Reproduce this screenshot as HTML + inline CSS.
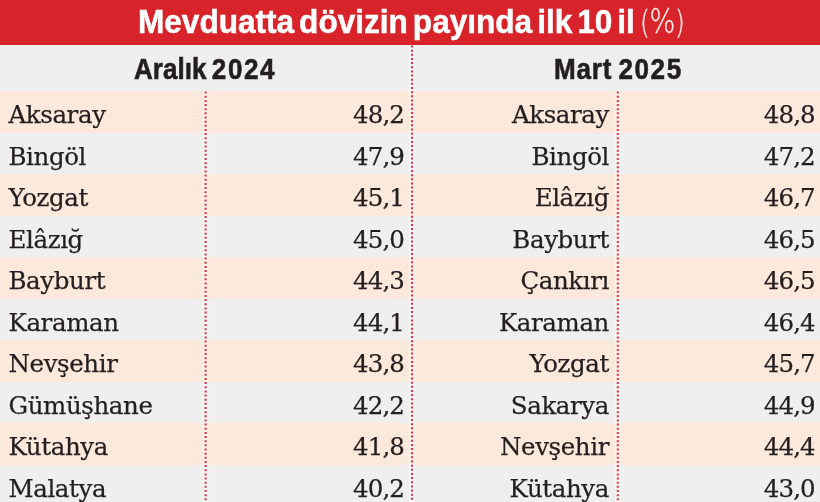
<!DOCTYPE html>
<html lang="tr"><head><meta charset="utf-8"><title>Mevduatta dövizin payında ilk 10 il</title>
<style>
html,body{margin:0;padding:0}
body{width:820px;height:502px;overflow:hidden;position:relative;background:#efefef;color:#231f20}
.hd{position:absolute;left:0;top:0;width:820px;height:44.7px;background:#d9232a}
.title{position:absolute;left:0;top:0;width:820px;height:44px;color:#fff;white-space:nowrap;font-family:"Liberation Sans",sans-serif;font-weight:bold;font-size:33px;line-height:44px}
.title .t{position:absolute;left:138px;top:-0.5px;transform:scaleX(0.957);transform-origin:0 0;word-spacing:-4px;-webkit-text-stroke:0.5px #fff}
.title .pc{position:absolute;left:640px;top:-1.5px;font-family:"DejaVu Sans","Liberation Sans",sans-serif;font-weight:200;font-size:31.5px;-webkit-text-stroke:0.3px #fdeeee;line-height:44px;transform:scaleX(0.8);transform-origin:0 0;color:#fdeeee}
.title .pct{font-size:34px;position:relative;top:0.8px;margin:0 -0.5px}
.sub{position:absolute;top:44.7px;left:0;width:820px;height:46.3px;background:#efefef}
.sh{position:absolute;top:44.8px;height:47px;line-height:47px;white-space:nowrap;font-family:"Liberation Sans",sans-serif;font-weight:bold;font-size:29.6px;color:#231f20;transform:scaleX(0.88);transform-origin:0 0;word-spacing:-2px;-webkit-text-stroke:0.6px #231f20}
.sh .d{letter-spacing:1.8px}
.sh .w{letter-spacing:0.9px}
.row{position:absolute;left:0;width:820px;height:41.5px;font-family:"DejaVu Serif","Liberation Serif",serif;font-size:24.5px;line-height:41.5px;white-space:nowrap;letter-spacing:-0.4px;-webkit-text-stroke:0.25px #231f20}
.row.p{background:#fde9dc}
.row.g{background:#efefef}
.row span{position:absolute;top:3.1px}
.n.l{left:8.5px}
.v{font-size:24.5px;letter-spacing:-0.9px;margin-top:0px}
.v.lv{right:416px}
.n.r{right:211px}
.v.rv{right:5.2px}
.lines{position:absolute;left:0;top:0}
</style></head><body>
<div class="hd"></div>
<div class="title"><span class="t">Mevduatta dövizin payında ilk 10 il </span><span class="pc">(<span class="pct">%</span>)</span></div>
<div class="sub"></div>
<div class="sh" style="left:133.6px">Aralık <span class="d">2024</span></div>
<div class="sh" style="left:554.3px"><span class="w">Mart </span><span class="d">2025</span></div>
<div class="row p" style="top:91.0px"><span class="n l">Aksaray</span><span class="v lv">48,2</span><span class="n r">Aksaray</span><span class="v rv">48,8</span></div>
<div class="row g" style="top:132.5px"><span class="n l">Bingöl</span><span class="v lv">47,9</span><span class="n r">Bingöl</span><span class="v rv">47,2</span></div>
<div class="row p" style="top:174.0px"><span class="n l">Yozgat</span><span class="v lv">45,1</span><span class="n r">Elâzığ</span><span class="v rv">46,7</span></div>
<div class="row g" style="top:215.5px"><span class="n l">Elâzığ</span><span class="v lv">45,0</span><span class="n r">Bayburt</span><span class="v rv">46,5</span></div>
<div class="row p" style="top:257.0px"><span class="n l">Bayburt</span><span class="v lv">44,3</span><span class="n r">Çankırı</span><span class="v rv">46,5</span></div>
<div class="row g" style="top:298.5px"><span class="n l">Karaman</span><span class="v lv">44,1</span><span class="n r">Karaman</span><span class="v rv">46,4</span></div>
<div class="row p" style="top:340.0px"><span class="n l">Nevşehir</span><span class="v lv">43,8</span><span class="n r">Yozgat</span><span class="v rv">45,7</span></div>
<div class="row g" style="top:381.5px"><span class="n l">Gümüşhane</span><span class="v lv">42,2</span><span class="n r">Sakarya</span><span class="v rv">44,9</span></div>
<div class="row p" style="top:423.0px"><span class="n l">Kütahya</span><span class="v lv">41,8</span><span class="n r">Nevşehir</span><span class="v rv">44,4</span></div>
<div class="row g" style="top:464.5px"><span class="n l">Malatya</span><span class="v lv">40,2</span><span class="n r">Kütahya</span><span class="v rv">43,0</span></div>
<svg class="lines" width="820" height="502" viewBox="0 0 820 502">
<g stroke="#ffffff" stroke-opacity="0.35" stroke-width="6" fill="none">
<line x1="205.6" y1="91" x2="205.6" y2="502"/><line x1="412" y1="45" x2="412" y2="502"/><line x1="617.8" y1="91" x2="617.8" y2="502"/>
</g>
<g stroke="#e8273a" stroke-width="2" stroke-dasharray="2 2.15" fill="none">
<line x1="205.6" y1="91.6" x2="205.6" y2="502"/><line x1="412" y1="45.5" x2="412" y2="502"/><line x1="617.8" y1="91.6" x2="617.8" y2="502"/>
</g>
</svg>
</body></html>
